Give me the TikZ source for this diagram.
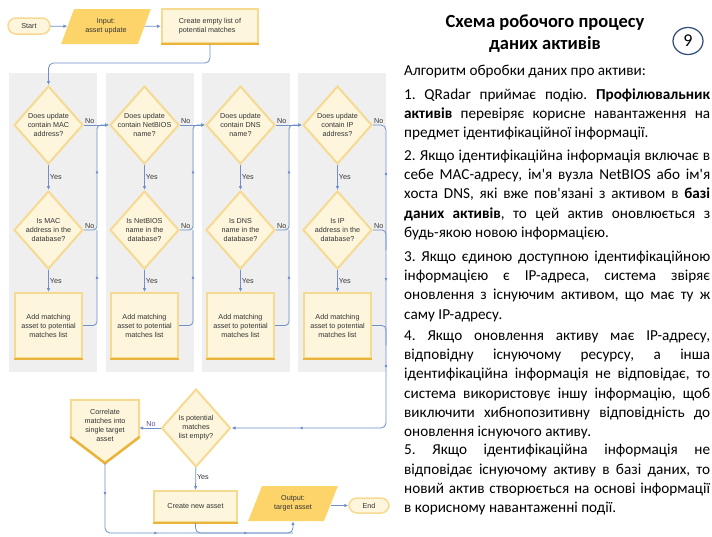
\documentclass[tikz,border=0pt]{standalone}
\usepackage{fontspec}
\setmainfont{Carlito}
\newfontfamily\chartfont{Liberation Sans}
\usetikzlibrary{arrows.meta,calc,decorations.markings,shapes.geometric}
\definecolor{panelgray}{HTML}{EFEFEF}
\definecolor{cream}{HTML}{FDF5DC}
\definecolor{goldlight}{HTML}{F7DA92}
\definecolor{golddark}{HTML}{EAB43C}
\definecolor{goldfill}{HTML}{FDD46A}
\definecolor{linkblue}{HTML}{6F90C8}
\definecolor{charttext}{HTML}{333333}
\definecolor{notext}{HTML}{5E4A8E}
\definecolor{ringblue}{HTML}{2E4A7A}
\begin{document}
\begin{tikzpicture}
	[x=1pt,y=-1pt,
	chart/.style={font=\chartfont\fontsize{7.2}{9}\selectfont,text=charttext,align=center},
	quest/.style={chart,diamond,fill=cream,draw=goldlight,line width=2pt,minimum width=69pt,minimum height=78pt,inner sep=-3pt},
	task/.style={chart,rectangle,fill=cream,draw=goldlight,line width=2pt,inner sep=1pt},
	io/.style={chart,trapezium,trapezium left angle=61.5,trapezium right angle=118.5,trapezium stretches=true,fill=goldfill,minimum width=90pt,minimum height=35pt,inner sep=0pt},
	term/.style={chart,rectangle,rounded corners=8pt,fill=cream,draw=goldlight,line width=1.5pt,minimum height=16pt,inner sep=1pt},
	lab/.style={chart,inner sep=1pt},
	link/.style={draw=linkblue,line width=0.8pt,-{Latex[length=4pt,width=3.5pt]}},
	wire/.style={draw=linkblue,line width=0.8pt},
	tick/.style={postaction={decorate,decoration={markings,mark=at position #1 with {\arrow[linkblue]{Latex[length=3pt,width=3pt]}}}}},
	body/.style={anchor=north west,inner sep=0pt,text width=306pt,align=justify,text=black,font=\fontsize{15.2}{19.3}\selectfont,execute at begin node={\frenchspacing\hyphenpenalty=10000\exhyphenpenalty=10000\strut}}]
	\fill[white] (0,0) rectangle (712,536);
	\useasboundingbox (0,0) rectangle (712,536);
	\foreach \px in {9,105.7,201.7,298}
		\fill[panelgray] (\px,73) rectangle ++(88,299);
	\node[term,minimum width=42pt] (start) at (29,26) {Start};
	\node[io] (in) at (106,26.5) {Input:\\asset update};
	\node[task,align=left,minimum width=96pt,minimum height=34pt] (empty) at (210,26) {Create empty list of\\potential matches};
	\draw[golddark,line width=2.5pt] (empty.south west) -- (empty.south east);
	\foreach \i/\idname/\idword/\cx in {1/MAC/address/48.5,2/NetBIOS/name/144.5,3/DNS/name/240.5,4/IP/address/337.5}
	{
		\node[quest] (q\i) at (\cx,125) {Does update\\contain \idname\\\idword?};
		\node[quest] (d\i) at (\cx,230) {Is \idname\\\idword{} in the\\database?};
		\node[task,minimum width=67pt,minimum height=65pt] (m\i) at (\cx,325.5) {Add matching\\asset to potential\\matches list};
		\draw[golddark,line width=2.5pt] (m\i.south west) -- (m\i.south east);
		\draw[link] (q\i) -- node[lab,right] (yq\i) {Yes} (d\i);
		\draw[link] (d\i) -- node[lab,right] (ym\i) {Yes} (m\i);
		\node[lab,anchor=south west] (nq\i) at (q\i.east) {No};
		\node[lab,anchor=south west] (nd\i) at (d\i.east) {No};
	}
	\draw[link] (start) -- (in);
	\draw[link] (in) -- (empty);
	\draw[link,rounded corners=5pt] (empty.south) -- ++(0,19) -| (q1.north);
	\foreach \i/\j/\rx in {1/2/97,2/3/193,3/4/289}
	{
		\coordinate (bus\i) at (\rx,125);
		\draw[link] (q\i.east) -- (q\j.west);
		\draw[link,rounded corners=4pt,tick=71pt] (d\i.east) -| (bus\i) -- (q\j.west);
		\draw[wire,rounded corners=4pt,tick=62pt] (m\i.east) -| (bus\i |- d\i.east);
	}
	\node[quest] (z) at (196,428) {Is potential\\matches\\list empty?};
	\node[minimum width=68pt,minimum height=63pt,inner sep=0pt] (corr) at (105,431.5) {};
	\filldraw[fill=cream,draw=goldlight,line width=2pt] (corr.north west) -- (corr.north east) -- ($(corr.south east)+(0,-26)$) -- (corr.south) -- ($(corr.south west)+(0,-26)$) -- cycle;
	\draw[golddark,line width=2.5pt,line cap=round] ($(corr.south west)+(0,-26)$) -- (corr.south) -- ($(corr.south east)+(0,-26)$);
	\node[chart] (corrtext) at (105,425.5) {Correlate\\matches into\\single target\\asset};
	\node[task,minimum width=83pt,minimum height=31pt] (cn) at (195.5,506.5) {Create new asset};
	\draw[golddark,line width=2.5pt] (cn.south west) -- (cn.south east);
	\node[io] (out) at (293,503.5) {Output:\\target asset};
	\node[term,minimum width=40pt,minimum height=15pt] (finish) at (369,505.5) {End};
	\coordinate (drop) at (386,125);
	\draw[link,rounded corners=5pt,tick=62pt,tick=167pt,tick=254pt,tick=398pt] (q4.east) -- (drop) |- (z.east);
	\draw[wire,rounded corners=4pt] (d4.east) -- (d4.east -| drop) -- ++(0,20);
	\draw[wire,rounded corners=4pt] (m4.east) -- (m4.east -| drop) -- ++(0,20);
	\draw[link] (z.west) -- node[lab,above,text=notext,pos=0.45] (nz) {No} (z.west -| corr.east);
	\draw[link] (z) -- node[lab,right,pos=0.4] (yz) {Yes} (cn);
	\coordinate (floor) at (0,533);
	\draw[link,rounded corners=5pt,tick=32pt,tick=120pt,tick=210pt] (corr.south) -- (corr.south |- floor) -| (out.south);
	\draw[wire,rounded corners=5pt] (cn.south) |- (out.south |- floor);
	\draw[link] (out.east |- finish.west) -- (finish.west);
	\node[font=\fontsize{18.5}{22}\selectfont\bfseries,align=center] (title) at (545,33.5) {Схема робочого процесу\\даних активів};
	\node[ellipse,draw=ringblue,line width=1.2pt,minimum width=30pt,minimum height=27pt,inner sep=0pt,font=\fontsize{18}{18}\selectfont] (page) at (688,41) {9};
	\node[body] (intro) at (404,61.8) {Алгоритм обробки даних про активи:};
	\node[body] (step1) at (404,85.6) {1. QRadar приймає подію. \textbf{Профілювальник}\linebreak \textbf{активів} перевіряє корисне навантаження на\linebreak предмет ідентифікаційної інформації.};
	\node[body] (step2) at (404,146.6) {2. Якщо ідентифікаційна інформація включає в\linebreak себе MAC-адресу, ім\textquotesingle я вузла NetBIOS або ім\textquotesingle я\linebreak хоста DNS, які вже пов\textquotesingle язані з активом в \textbf{базі}\linebreak \textbf{даних активів}, то цей актив оновлюється з\linebreak будь-якою новою інформацією.};
	\node[body] (step3) at (404,247.6) {3. Якщо єдиною доступною ідентифікаційною\linebreak інформацією є IP-адреса, система звіряє\linebreak оновлення з існуючим активом, що має ту ж\linebreak саму IP-адресу.};
	\node[body] (step4) at (404,326.6) {4. Якщо оновлення активу має IP-адресу,\linebreak відповідну існуючому ресурсу, а інша\linebreak ідентифікаційна інформація не відповідає, то\linebreak система використовує іншу інформацію, щоб\linebreak виключити хибнопозитивну відповідність до\linebreak оновлення існуючого активу.};
	\node[body] (step5) at (404,441.1) {5. Якщо ідентифікаційна інформація не\linebreak відповідає існуючому активу в базі даних, то\linebreak новий актив створюється на основі інформації\linebreak в корисному навантаженні події.};
\end{tikzpicture}
\end{document}
